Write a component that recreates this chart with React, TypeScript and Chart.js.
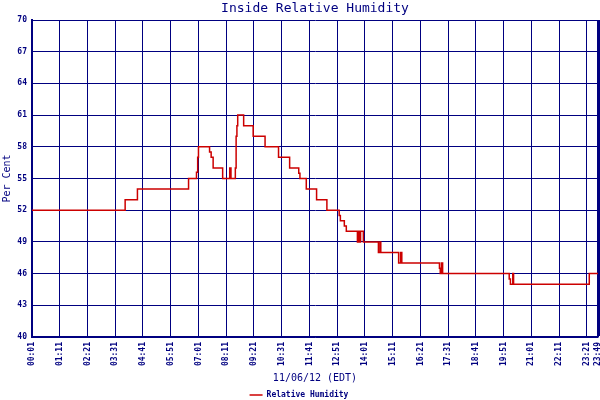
import { useEffect, useRef } from 'react';
import { Chart, registerables } from 'chart.js';

Chart.register(...registerables);

const NAVY = '#000080';
const RED = '#cc0000';
const MONO = "'DejaVu Sans Mono', monospace";

// time (hh:mm EDT) where the reading changes, and the value held from then on
const changeTimes = [
  '00:01', '03:56', '04:27', '06:36', '06:56', '06:59', '07:01', '07:29', '07:33', '07:38',
  '08:02', '08:20', '08:23', '08:34', '08:36', '08:38', '08:40', '08:55', '09:19', '09:49',
  '10:23', '10:51', '11:14', '11:17', '11:33', '11:59', '12:25', '12:56', '12:59', '13:09',
  '13:14', '13:42', '13:45', '13:47', '13:50', '13:57', '14:35', '14:39', '14:41', '15:26',
  '15:31', '15:34', '17:09', '17:11', '17:14', '17:17', '20:05', '20:08', '20:14', '20:16',
  '23:27', '23:49',
];
const humidity = [
  52, 53, 54, 55, 55.6, 57, 58, 57.5, 57, 56,
  55, 56, 55, 56, 59, 60, 61, 60, 59, 58,
  57, 56, 55.5, 55, 54, 53, 52, 51.5, 51, 50.5,
  50, 49, 50, 49, 50, 49, 48, 49, 48, 47,
  48, 47, 46.5, 46, 47, 46, 45.5, 45, 46, 45,
  46, 46,
];

// x axis labels, every 70 minutes plus the last reading
const tickLabels = [
  '00:01', '01:11', '02:21', '03:31', '04:41', '05:51', '07:01', '08:11', '09:21', '10:31',
  '11:41', '12:51', '14:01', '15:11', '16:21', '17:31', '18:41', '19:51', '21:01', '22:11',
  '23:21', '23:49',
];

const yMin = 40;
const yMax = 70;
const yStep = 3;

const toMinutes = (t: string) => {
  const [h, m] = t.split(':').map(Number);
  return h * 60 + m;
};

export default function App() {
  const canvasRef = useRef<HTMLCanvasElement>(null);

  useEffect(() => {
    if (!canvasRef.current) return;
    const tickValues = tickLabels.map(toMinutes);
    const lastTick = tickValues[tickValues.length - 1];

    const chart = new Chart(canvasRef.current, {
      type: 'line',
      data: {
        datasets: [
          {
            label: 'Relative Humidity',
            data: changeTimes.map((t, i) => ({ x: toMinutes(t), y: humidity[i] })),
            borderColor: RED,
            backgroundColor: RED,
            borderWidth: 1.5,
            pointRadius: 0,
            stepped: true,
            fill: false,
          },
        ],
      },
      options: {
        responsive: false,
        animation: false,
        layout: { padding: { top: 0, right: 2, bottom: -9, left: 0 } },
        plugins: {
          title: {
            display: true,
            text: 'Inside Relative Humidity',
            color: NAVY,
            fullSize: false,
            font: { family: MONO, size: 13, weight: 'normal' },
            padding: { top: 1, bottom: 3.4 },
          },
          legend: {
            position: 'bottom',
            labels: {
              color: NAVY,
              usePointStyle: true,
              pointStyle: 'line',
              pointStyleWidth: 13,
              padding: 2,
              font: { family: MONO, size: 8, weight: 'bold' },
            },
          },
          tooltip: { enabled: false },
        },
        scales: {
          x: {
            type: 'linear',
            min: tickValues[0],
            max: lastTick,
            afterBuildTicks: (s: any) => {
              s.ticks = tickValues.map((v) => ({ value: v }));
            },
            afterFit: (s: any) => {
              const legendH = s.chart.legend ? s.chart.legend.height : 0;
              s.height = 409 - 337 - legendH;
              s.paddingLeft = 0;
              s.paddingRight = 0;
            },
            ticks: {
              autoSkip: false,
              minRotation: 90,
              maxRotation: 90,
              padding: 5,
              color: NAVY,
              font: { family: MONO, size: 8, weight: 'bold' },
              callback: (_v: any, i: number) => tickLabels[i],
            },
            grid: {
              color: NAVY,
              lineWidth: (ctx: any) => (ctx.tick && ctx.tick.value === lastTick ? 3 : 1),
              drawTicks: false,
            },
            border: { display: true, color: NAVY, width: 1.5 },
            title: {
              display: true,
              text: '11/06/12 (EDT)',
              color: NAVY,
              font: { family: MONO, size: 10 },
              padding: { top: 0, bottom: 5 },
            },
          },
          y: {
            min: yMin,
            max: yMax,
            afterFit: (s: any) => {
              s.width = 32;
              s.paddingTop = 0;
              s.paddingBottom = 0;
            },
            ticks: {
              stepSize: yStep,
              padding: 5,
              color: NAVY,
              font: { family: MONO, size: 8, weight: 'bold' },
            },
            grid: { color: NAVY, lineWidth: 1, drawTicks: false },
            border: { display: true, color: NAVY, width: 2 },
            title: {
              display: true,
              text: 'Per Cent',
              color: NAVY,
              font: { family: MONO, size: 10 },
              padding: { top: 1, bottom: 0 },
            },
          },
        },
      },
    });

    return () => chart.destroy();
  }, []);

  return (
    <div style={{ position: 'absolute', left: 0, top: 0, width: 600, height: 400, background: '#fff' }}>
      <canvas ref={canvasRef} width={600} height={400}></canvas>
    </div>
  );
}
